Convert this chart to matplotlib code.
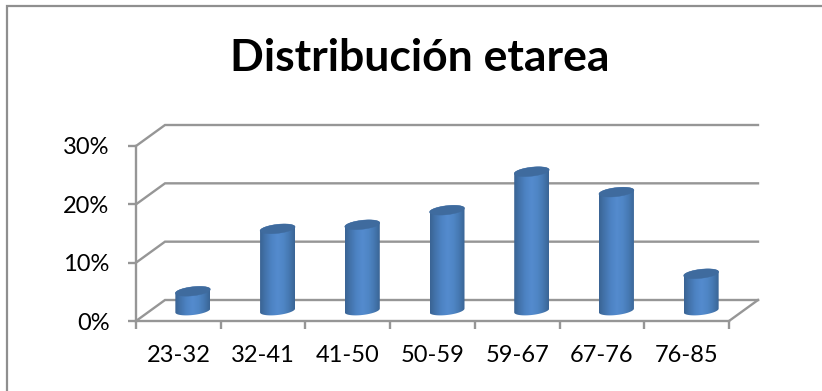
import matplotlib
matplotlib.use("Agg")
import matplotlib.pyplot as plt
from matplotlib.colors import LinearSegmentedColormap
from matplotlib.lines import Line2D
from matplotlib.patches import Polygon
import numpy as np

categorias = ["23-32", "32-41", "41-50", "50-59", "59-67", "67-76", "76-85"]
valores = [3.3, 14.0, 14.7, 17.2, 23.8, 20.3, 6.3]
marcas_y = [0, 10, 20, 30]

W, H = 822, 391
GRIS = "#969696"

# pixel box of the front plane
x0, x1 = 136, 729
y0, y30 = 321, 146
# depth of the 3d floor, converted to data units
px_x = (x1 - x0) / 7
px_y = (y0 - y30) / 30
dx = 29 / px_x
dy = 21 / px_y

plt.rcParams["font.family"] = "Lato"

fig = plt.figure(figsize=(W / 100, H / 100), dpi=100)
fig.patch.set_facecolor("white")
# outer border, only top and left are present
fig.add_artist(Line2D([7 / W, 7 / W, 1], [0, 1 - 5.5 / H, 1 - 5.5 / H], transform=fig.transFigure,
                      color="#8f8f8f", lw=1.6, solid_joinstyle="miter"))

ax = fig.add_axes([x0 / W, 1 - y0 / H, (x1 - x0) / W, (y0 - y30) / H])
ax.set_xlim(-0.5, 6.5)
ax.set_ylim(0, 30)
ax.patch.set_visible(False)

# back wall gridlines and their diagonal returns
for m in marcas_y:
    ax.plot([-0.5, -0.5 + dx, 6.5 + dx], [m, m + dy, m + dy], color=GRIS, lw=1.7,
            clip_on=False, solid_joinstyle="miter", zorder=1)
ax.plot([6.5, 6.5 + dx], [0, dy], color=GRIS, lw=1.7, clip_on=False, zorder=1)

for s in ["top", "right"]:
    ax.spines[s].set_visible(False)
for s in ["left", "bottom"]:
    ax.spines[s].set_color(GRIS)
    ax.spines[s].set_linewidth(1.7)

ax.set_yticks(marcas_y)
ax.set_yticklabels([f"{m}%" for m in marcas_y], fontsize=17, color="black")
ax.set_xticks(np.arange(-0.5, 7, 1))
ax.set_xticklabels([])
ax.set_xticks(np.arange(7), labels=categorias, minor=True, fontsize=17)
ax.tick_params(axis="both", which="major", color=GRIS, width=1.7, length=6)
ax.tick_params(axis="x", which="minor", length=0, pad=17)
ax.tick_params(axis="y", pad=13)

cmap = LinearSegmentedColormap.from_list(
    "cil", ["#3a6494", "#4475ae", "#4d83c4", "#548bce", "#4f86c6", "#4679b3", "#3a6595"])
gradiente = np.linspace(0, 1, 64).reshape(1, -1)

radio = 17.5 / px_x
semi = 4.5 / px_y
incl = 1.9 / px_y
t = np.linspace(0, 2 * np.pi, 81)

for i, v in enumerate(valores):
    cx = i + dx / 2
    base = dy / 2
    # slightly tilted ellipse for the cylinder ends
    ex = radio * np.cos(t)
    ey = semi * np.sin(t) + incl * np.cos(t)
    arriba = t <= np.pi
    abajo = t >= np.pi
    # outline: bottom half of the base, then top half of the lid
    cuerpo = np.vstack([
        np.column_stack([cx + ex[abajo], base + ey[abajo]]),
        np.column_stack([cx + ex[arriba], base + v + ey[arriba]]),
    ])
    parche = Polygon(cuerpo, closed=True, facecolor="none", edgecolor="none",
                     transform=ax.transData, zorder=3, clip_on=False)
    ax.add_patch(parche)
    img = ax.imshow(gradiente, cmap=cmap, aspect="auto", zorder=3, interpolation="bilinear",
                    extent=[cx - radio, cx + radio, base - semi - incl, base + v + semi + incl])
    img.set_clip_path(parche)
    ax.add_patch(Polygon(np.column_stack([cx + ex, base + v + ey]), closed=True,
                         facecolor="#3f6b9e", edgecolor="#3f6b9e", lw=0.3,
                         zorder=4, clip_on=False))

ax.set_xlim(-0.5, 6.5)
ax.set_ylim(0, 30)

fig.text(420 / W, 1 - 71 / H, "Distribución etarea", ha="center", va="baseline",
         fontsize=32, fontweight="bold", color="black")

fig.savefig("out.png", dpi=100)
